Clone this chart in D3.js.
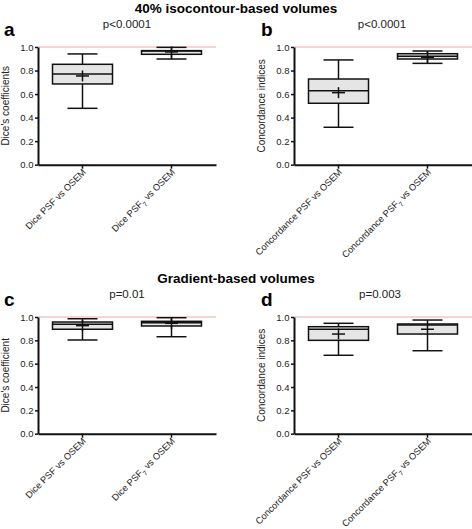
<!DOCTYPE html>
<html>
<head>
<meta charset="utf-8">
<script src="https://cdn.jsdelivr.net/npm/d3@7"></script>
<style>
  html, body { margin: 0; padding: 0; background: #fff; }
  svg { display: block; font-family: Arial, "Liberation Sans", Helvetica, sans-serif; }
</style>
</head>
<body>
<svg id="chart" width="472" height="529"></svg>
<script>
// ---- Data ----
const sectionTitles = ["40% isocontour-based volumes", "Gradient-based volumes"];
const panelLetters = ["a", "b", "c", "d"];
const pValues = ["p<0.0001", "p<0.0001", "p=0.01", "p=0.003"];
const yLabels = ["Dice's coefficients", "Concordance indices", "Dice's coefficient", "Concordance indices"];
const diceCategories = ["Dice PSF vs OSEM", "Dice PSF_7 vs OSEM"];
const concCategories = ["Concordance PSF vs OSEM", "Concordance PSF_7 vs OSEM"];
const yTicks = [0, 0.2, 0.4, 0.6, 0.8, 1.0];
const referenceLine = 1.0;
// each row: [min, q1, median, q3, max, mean]
const isoDice = [[0.479, 0.686, 0.771, 0.853, 0.941, 0.754],
                 [0.898, 0.938, 0.965, 0.969, 0.997, 0.958]];
const isoConc = [[0.318, 0.522, 0.629, 0.728, 0.890, 0.612],
                 [0.861, 0.898, 0.921, 0.943, 0.966, 0.912]];
const gradDice = [[0.803, 0.895, 0.937, 0.957, 0.985, 0.926],
                  [0.831, 0.923, 0.951, 0.963, 0.994, 0.946]];
const gradConc = [[0.672, 0.800, 0.895, 0.917, 0.946, 0.854],
                  [0.711, 0.854, 0.931, 0.940, 0.974, 0.895]];

// ---- Layout ----
const svg = d3.select("#chart");
const panels = [
  {x0: 38, x1: 216, yTop: 47, yBot: 164.7, cats: diceCategories, data: isoDice, letterX: 4, letterY: 36, pX: 127, pY: 28, labX: 9},
  {x0: 294, x1: 472, yTop: 47, yBot: 164.7, cats: concCategories, data: isoConc, letterX: 261, letterY: 36, pX: 382, pY: 28, labX: 265},
  {x0: 38, x1: 216, yTop: 317, yBot: 433.7, cats: diceCategories, data: gradDice, letterX: 4, letterY: 306, pX: 127, pY: 298, labX: 9},
  {x0: 294, x1: 472, yTop: 317, yBot: 433.7, cats: concCategories, data: gradConc, letterX: 261, letterY: 306, pX: 380, pY: 298, labX: 265}
];

svg.append("text").attr("x", 236).attr("y", 13).attr("text-anchor", "middle")
  .attr("font-size", 13.5).attr("font-weight", "bold").text(sectionTitles[0]);
svg.append("text").attr("x", 236).attr("y", 283).attr("text-anchor", "middle")
  .attr("font-size", 13.5).attr("font-weight", "bold").text(sectionTitles[1]);

function addLabel(sel, label) {
  const parts = label.split("_");
  if (parts.length === 1) { sel.text(label); return; }
  const m = parts[1].match(/^(\S+)(.*)$/);
  sel.append("tspan").text(parts[0]);
  sel.append("tspan").attr("font-size", 6.5).attr("dy", 3).text(m[1]);
  sel.append("tspan").attr("dy", -3).text(m[2]);
}

panels.forEach((p, i) => {
  const g = svg.append("g");
  const y = d3.scaleLinear().domain([0, 1]).range([p.yBot, p.yTop]);
  const x = d3.scaleBand().domain(p.cats).range([p.x0, p.x1]);

  // reference line at 1.0
  g.append("line").attr("x1", p.x0).attr("x2", p.x1)
    .attr("y1", y(referenceLine)).attr("y2", y(referenceLine))
    .attr("stroke", "#f6a5a5").attr("stroke-width", 1);

  // boxes
  const boxW = 60, capW = 30;
  p.data.forEach((d, j) => {
    const cx = x(p.cats[j]) + x.bandwidth() / 2;
    const [mn, q1, med, q3, mx, mean] = d;
    const bg = g.append("g").attr("stroke", "#111").attr("stroke-width", 1.5).attr("fill", "none");
    bg.append("line").attr("x1", cx).attr("x2", cx).attr("y1", y(mx)).attr("y2", y(q3));
    bg.append("line").attr("x1", cx).attr("x2", cx).attr("y1", y(q1)).attr("y2", y(mn));
    bg.append("line").attr("x1", cx - capW / 2).attr("x2", cx + capW / 2).attr("y1", y(mx)).attr("y2", y(mx));
    bg.append("line").attr("x1", cx - capW / 2).attr("x2", cx + capW / 2).attr("y1", y(mn)).attr("y2", y(mn));
    bg.append("rect").attr("x", cx - boxW / 2).attr("width", boxW)
      .attr("y", y(q3)).attr("height", y(q1) - y(q3)).attr("fill", "#e5e5e5");
    bg.append("line").attr("x1", cx - boxW / 2).attr("x2", cx + boxW / 2).attr("y1", y(med)).attr("y2", y(med));
    // mean "+"
    bg.append("line").attr("x1", cx - 6.5).attr("x2", cx + 6.5).attr("y1", y(mean)).attr("y2", y(mean));
    bg.append("line").attr("x1", cx).attr("x2", cx).attr("y1", y(mean) - 5.5).attr("y2", y(mean) + 5.5);
  });

  // y axis
  const ya = g.append("g").attr("transform", `translate(${p.x0},0)`)
    .call(d3.axisLeft(y).tickValues(yTicks).tickFormat(d3.format(".1f")).tickSize(3).tickSizeOuter(0).tickPadding(1.5));
  ya.select(".domain").attr("stroke", "#111").attr("stroke-width", 2);
  ya.selectAll(".tick line").attr("stroke", "#111").attr("stroke-width", 1.5);
  ya.selectAll(".tick text").attr("font-size", 9.5).attr("fill", "#222").attr("font-family", "Arial, 'Liberation Sans', sans-serif");

  // x axis
  const xa = g.append("g").attr("transform", `translate(0,${p.yBot})`)
    .call(d3.axisBottom(x).tickSize(4).tickSizeOuter(0).tickFormat(""));
  xa.select(".domain").attr("stroke", "#111").attr("stroke-width", 2);
  xa.selectAll(".tick line").attr("stroke", "#111").attr("stroke-width", 1.5);
  p.cats.forEach(c => {
    const cx = x(c) + x.bandwidth() / 2;
    const t = g.append("text").attr("text-anchor", "end").attr("font-size", 9.3).attr("fill", "#222")
      .attr("transform", `translate(${cx + 4},${p.yBot + 8}) rotate(-45)`);
    addLabel(t, c);
  });

  // y label
  g.append("text").attr("text-anchor", "middle").attr("font-size", 10).attr("fill", "#222")
    .attr("transform", `translate(${p.labX},${(p.yTop + p.yBot) / 2}) rotate(-90)`)
    .text(yLabels[i]);

  // panel letter and p value
  svg.append("text").attr("x", p.letterX).attr("y", p.letterY).attr("font-size", 19)
    .attr("font-weight", "bold").text(panelLetters[i]);
  svg.append("text").attr("x", p.pX).attr("y", p.pY).attr("text-anchor", "middle")
    .attr("font-size", 11.5).attr("fill", "#222").text(pValues[i]);
});
</script>
</body>
</html>
